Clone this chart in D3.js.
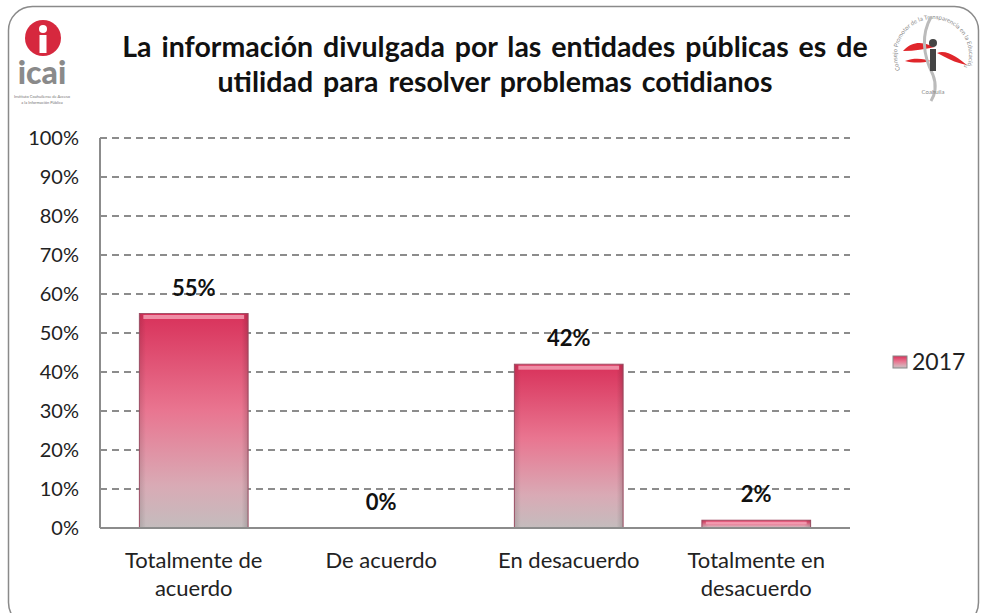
<!DOCTYPE html>
<html>
<head>
<meta charset="utf-8">
<script src="https://cdn.jsdelivr.net/npm/d3@7/dist/d3.min.js"></script>
<style>
  body { margin: 0; background: #fff; }
  svg { display: block; }
  .txt { font-family: Lato, "Open Sans", sans-serif; fill: #111; }
</style>
</head>
<body>
<svg width="984" height="613"></svg>
<script>
// data
const categories = [["Totalmente de", "acuerdo"], ["De acuerdo"], ["En desacuerdo"], ["Totalmente en", "desacuerdo"]];
const values2017 = [55, 0, 42, 2];
const valueLabels = ["55%", "0%", "42%", "2%"];
const yTicks = [0, 10, 20, 30, 40, 50, 60, 70, 80, 90, 100];
const titleLines = ["La información divulgada por las entidades públicas es de", "utilidad para resolver problemas cotidianos"];
const seriesName = "2017";

const svg = d3.select("svg");

// frame
svg.append("rect")
    .attr("x", 8.5).attr("y", 6.5)
    .attr("width", 970).attr("height", 620)
    .attr("rx", 24)
    .style("fill", "none")
    .style("stroke", "#8a8a8a")
    .style("stroke-width", 1.5);

// gradient for bars
let defs = svg.append("defs");
let grad = defs.append("linearGradient").attr("id", "barGrad")
    .attr("x1", 0).attr("y1", 0).attr("x2", 0).attr("y2", 1);
grad.append("stop").attr("offset", "0%").attr("stop-color", "#d8315a");
grad.append("stop").attr("offset", "45%").attr("stop-color", "#e97590");
grad.append("stop").attr("offset", "80%").attr("stop-color", "#d9aab5");
grad.append("stop").attr("offset", "100%").attr("stop-color", "#c4bcbd");

let sideGrad = defs.append("linearGradient").attr("id", "sideGrad")
    .attr("x1", 0).attr("y1", 0).attr("x2", 1).attr("y2", 0);
sideGrad.append("stop").attr("offset", "0%").attr("stop-color", "#000").attr("stop-opacity", 0.12);
sideGrad.append("stop").attr("offset", "6%").attr("stop-color", "#000").attr("stop-opacity", 0);
sideGrad.append("stop").attr("offset", "94%").attr("stop-color", "#000").attr("stop-opacity", 0);
sideGrad.append("stop").attr("offset", "100%").attr("stop-color", "#000").attr("stop-opacity", 0.15);

// scales
let plotLeft = 100, plotRight = 850, plotTop = 138, plotBottom = 528;
let x = d3.scaleBand().domain(d3.range(categories.length)).range([plotLeft, plotRight]).paddingInner(0.42).paddingOuter(0.21);
let y = d3.scaleLinear().domain([0, 100]).range([plotBottom, plotTop]);

// gridlines
svg.append("g").selectAll("line").data(yTicks.filter(d => d > 0)).enter()
    .append("line")
    .attr("x1", plotLeft).attr("x2", plotRight)
    .attr("y1", d => y(d)).attr("y2", d => y(d))
    .style("stroke", "#8c8c8c")
    .style("stroke-width", 2)
    .style("stroke-dasharray", "7,5");

// y tick labels
svg.append("g").selectAll("text").data(yTicks).enter()
    .append("text").classed("txt", true)
    .attr("x", 79).attr("y", d => y(d))
    .attr("dy", "0.35em")
    .attr("text-anchor", "end")
    .style("font-size", "20px")
    .style("fill", "#222")
    .text(d => d + "%");

// bars
let bars = svg.append("g");
bars.selectAll("rect.bar").data(values2017).enter()
    .append("rect").classed("bar", true)
    .attr("x", (d, i) => x(i))
    .attr("y", d => y(d))
    .attr("width", x.bandwidth())
    .attr("height", d => plotBottom - y(d))
    .style("fill", "url(#barGrad)")
    .style("stroke", d => d > 0 ? "#a5536a" : "none")
    .style("stroke-width", 1);
bars.selectAll("rect.shade").data(values2017).enter()
    .append("rect").classed("shade", true)
    .attr("x", (d, i) => x(i))
    .attr("y", d => y(d))
    .attr("width", x.bandwidth())
    .attr("height", d => plotBottom - y(d))
    .style("fill", "url(#sideGrad)");
// top bevel highlight
bars.selectAll("rect.bevel").data(values2017).enter()
    .append("rect").classed("bevel", true)
    .attr("x", (d, i) => x(i) + 4)
    .attr("y", d => y(d) + 1.5)
    .attr("width", x.bandwidth() - 8)
    .attr("height", d => d > 0 ? Math.min(4, (plotBottom - y(d)) / 3) : 0)
    .style("fill", "#f4a4b8")
    .style("opacity", 0.8);

// axes
svg.append("line").attr("x1", plotLeft).attr("x2", plotLeft).attr("y1", plotTop).attr("y2", plotBottom)
    .style("stroke", "#8c8c8c").style("stroke-width", 2);
svg.append("line").attr("x1", plotLeft).attr("x2", plotRight).attr("y1", plotBottom).attr("y2", plotBottom)
    .style("stroke", "#8c8c8c").style("stroke-width", 2);

// value labels
svg.append("g").selectAll("text").data(values2017).enter()
    .append("text").classed("txt", true)
    .attr("x", (d, i) => x(i) + x.bandwidth() / 2)
    .attr("y", d => y(d) - 18)
    .attr("text-anchor", "middle")
    .style("font-size", "22px")
    .style("font-weight", "bold")
    .text((d, i) => valueLabels[i]);

// category labels
let cat = svg.append("g").selectAll("text").data(categories).enter()
    .append("text").classed("txt", true)
    .attr("x", (d, i) => x(i) + x.bandwidth() / 2)
    .attr("y", 568)
    .attr("text-anchor", "middle")
    .style("font-size", "22px")
    .style("fill", "#222");
cat.selectAll("tspan").data(d => d).enter()
    .append("tspan")
    .attr("x", function() { return d3.select(this.parentNode).attr("x"); })
    .attr("dy", (d, i) => i == 0 ? 0 : 28)
    .text(d => d);

// legend
svg.append("rect")
    .attr("x", 893).attr("y", 356).attr("width", 14).attr("height", 12)
    .style("fill", "url(#barGrad)").style("stroke", "#888").style("stroke-width", 1);
svg.append("text").classed("txt", true)
    .attr("x", 912).attr("y", 362).attr("dy", "0.35em")
    .style("font-size", "23px")
    .style("fill", "#222")
    .text(seriesName);

// title
svg.append("g").selectAll("text").data(titleLines).enter()
    .append("text").classed("txt", true)
    .attr("x", 495)
    .attr("y", (d, i) => 57 + i * 35)
    .attr("text-anchor", "middle")
    .style("font-size", "28.5px")
    .style("font-weight", "bold")
    .style("word-spacing", "3px")
    .text(d => d);

// left logo (icai)
let logo = svg.append("g");
logo.append("circle").attr("cx", 43).attr("cy", 38).attr("r", 18).style("fill", "#d6283e");
logo.append("circle").attr("cx", 43).attr("cy", 29).attr("r", 4).style("fill", "#fff");
logo.append("rect").attr("x", 39.5).attr("y", 35).attr("width", 7).attr("height", 18).style("fill", "#fff");
logo.append("text")
    .attr("x", 42).attr("y", 84).attr("text-anchor", "middle")
    .style("font-family", "Lato, sans-serif").style("font-weight", "900")
    .style("font-size", "32px").style("fill", "#8a8a8a")
    .text("icai");
logo.append("text")
    .attr("x", 42).attr("y", 98).attr("text-anchor", "middle")
    .style("font-family", "Lato, sans-serif").style("font-size", "4px").style("fill", "#777")
    .text("Instituto Coahuilense de Acceso");
logo.append("text")
    .attr("x", 42).attr("y", 104).attr("text-anchor", "middle")
    .style("font-family", "Lato, sans-serif").style("font-size", "4px").style("fill", "#777")
    .text("a la Información Pública");

// right logo
let rlogo = svg.append("g").attr("transform", "translate(933,55)");
rlogo.append("path").attr("id", "rarc").attr("d", d3.arc().innerRadius(36).outerRadius(36).startAngle(-2.0).endAngle(1.9)()).style("fill", "none");
rlogo.append("text")
    .style("font-family", "Lato, sans-serif").style("font-size", "6px").style("fill", "#888")
    .append("textPath").attr("href", "#rarc")
    .text("Consejo Promotor de la Transparencia en la Educación");
rlogo.append("path")
    .attr("d", "M-30,-4 C-18,-18 -4,-10 2,-8 C-8,-6 -18,-4 -30,-4 Z M4,-2 C14,-6 26,4 34,10 C22,8 12,2 4,-2 Z M-28,6 C-18,2 -8,4 -2,6 C-12,8 -20,8 -28,6 Z")
    .style("fill", "#e0262b");
rlogo.append("path")
    .attr("d", "M-2,-38 C-12,-20 -10,0 0,20 C4,30 2,40 -2,46")
    .style("fill", "none").style("stroke", "#bbb").style("stroke-width", 3);
rlogo.append("circle").attr("cx", 0).attr("cy", -12).attr("r", 4).style("fill", "#444");
rlogo.append("rect").attr("x", -3).attr("y", -6).attr("width", 6).attr("height", 22).style("fill", "#444");
rlogo.append("text")
    .attr("x", 0).attr("y", 39).attr("text-anchor", "middle")
    .style("font-family", "Lato, sans-serif").style("font-size", "6px").style("fill", "#888")
    .text("Coahuila");
</script>
</body>
</html>
